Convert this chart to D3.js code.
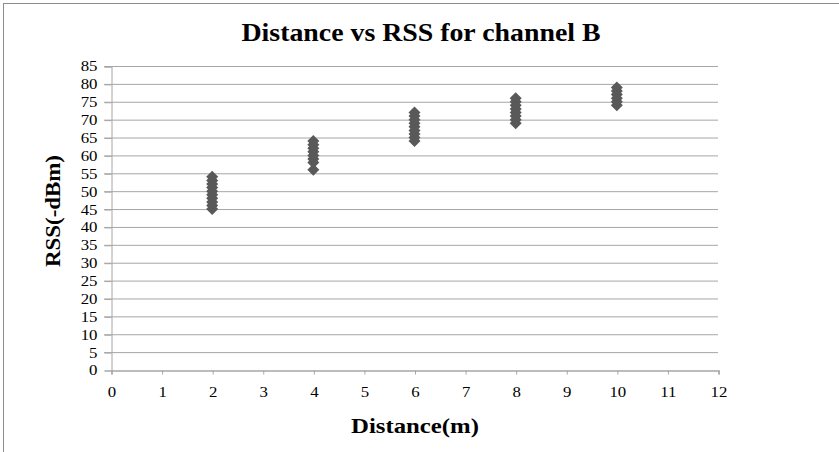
<!DOCTYPE html>
<html lang="en">
<head>
<meta charset="UTF-8">
<script src="https://d3js.org/d3.v7.min.js"></script>
<style>
    body { margin: 0; background: #fff; }
    svg { font-family: "Liberation Serif", "Times New Roman", serif; }
</style>
</head>
<body>
<div id="chart"></div>
<script>
    const width = 839, height = 452;
    const margin = { top: 66, right: 121, bottom: 82, left: 111 };
    const serif = "'Liberation Serif', 'Times New Roman', serif";

    // distances (m) and measured RSS (-dBm) per distance
    const distances = [2, 4, 6, 8, 10];
    const rss2 = [45, 46, 47, 48, 49, 50, 51, 52, 53, 54];
    const rss4 = [56, 58, 59, 60, 61, 62, 63, 64];
    const rss6 = [64, 65, 66, 67, 68, 69, 70, 71, 72];
    const rss8 = [69, 70, 71, 72, 73, 74, 75, 76];
    const rss10 = [74, 75, 76, 77, 78, 79];
    const xTicks = d3.range(0, 13, 1);
    const yTicks = d3.range(0, 90, 5);

    const series = [rss2, rss4, rss6, rss8, rss10];
    const points = distances.flatMap((d, i) => series[i].map(v => ({ x: d, y: v })));

    // the original picture is a bit wider than Times, stretch text a little
    function stretch(sel, k) {
        sel.each(function () {
            const w = this.getComputedTextLength();
            d3.select(this).attr("textLength", w * k).attr("lengthAdjust", "spacingAndGlyphs");
        });
    }

    const svg = d3.select("#chart").append("svg")
        .attr("width", width).attr("height", height);

    // chart border
    svg.append("rect")
        .attr("x", 3.5).attr("y", 3.5)
        .attr("width", width).attr("height", height)
        .attr("fill", "none").attr("stroke", "#8c8c8c");

    const x = d3.scaleLinear().domain([0, 12]).range([margin.left, width - margin.right]);
    const y = d3.scaleLinear().domain([0, 85]).range([height - margin.bottom, margin.top]);

    // gridlines
    svg.append("g")
        .selectAll("line")
        .data(yTicks.filter(t => t > 0))
        .join("line")
        .attr("x1", margin.left - 7).attr("x2", width - margin.right)
        .attr("y1", d => y(d) + 0.5).attr("y2", d => y(d) + 0.5)
        .attr("stroke", "#a6a6a6");

    // y axis
    const gy = svg.append("g")
        .attr("transform", `translate(${margin.left + 0.5},0.5)`)
        .call(d3.axisLeft(y).tickValues(yTicks).tickSize(7).tickPadding(7));
    gy.select(".domain").attr("stroke", "#a6a6a6");
    gy.selectAll(".tick line").attr("stroke", "#a6a6a6");
    gy.selectAll(".tick text").style("font-family", serif).style("font-size", "14px").attr("fill", "#000");
    stretch(gy.selectAll(".tick text"), 1.2);

    // x axis
    const gx = svg.append("g")
        .attr("transform", `translate(0.5,${height - margin.bottom + 0.5})`)
        .call(d3.axisBottom(x).tickValues(xTicks).tickSize(4).tickPadding(13).tickSizeOuter(4));
    gx.select(".domain").attr("stroke", "#a6a6a6").attr("stroke-width", 1.5);
    gx.selectAll(".tick line").attr("stroke", "#a6a6a6");
    gx.selectAll(".tick text").style("font-family", serif).style("font-size", "14px").attr("fill", "#000");
    stretch(gx.selectAll(".tick text"), 1.2);

    // diamond markers
    svg.append("g")
        .selectAll("path")
        .data(points)
        .join("path")
        .attr("transform", d => `translate(${x(d.x)},${y(d.y)})`)
        .attr("d", "M0,-6L6,0L0,6L-6,0Z")
        .attr("fill", "#595959");

    // title
    svg.append("text")
        .attr("x", 421).attr("y", 41)
        .attr("text-anchor", "middle")
        .attr("textLength", 359).attr("lengthAdjust", "spacingAndGlyphs")
        .style("font-family", serif)
        .style("font-size", "25px").style("font-weight", "bold")
        .text("Distance vs RSS for channel B");

    // axis titles
    svg.append("text")
        .attr("x", 415).attr("y", 433)
        .attr("text-anchor", "middle")
        .attr("textLength", 128).attr("lengthAdjust", "spacingAndGlyphs")
        .style("font-family", serif)
        .style("font-size", "21px").style("font-weight", "bold")
        .text("Distance(m)");

    svg.append("text")
        .attr("transform", "translate(60,211) rotate(-90)")
        .attr("text-anchor", "middle")
        .attr("textLength", 112).attr("lengthAdjust", "spacingAndGlyphs")
        .style("font-family", serif)
        .style("font-size", "21px").style("font-weight", "bold")
        .text("RSS(-dBm)");
</script>
</body>
</html>
